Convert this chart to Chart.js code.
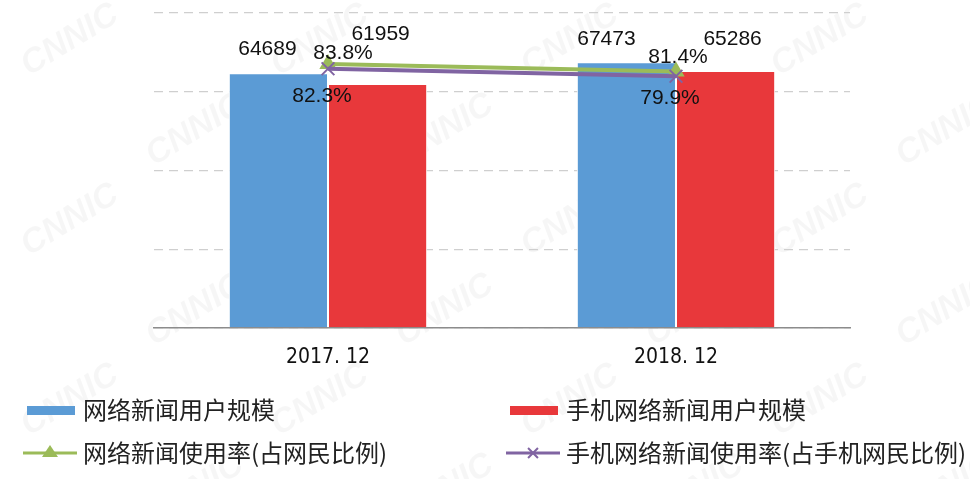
<!DOCTYPE html>
<html>
<head>
<meta charset="utf-8">
<script src="https://cdn.jsdelivr.net/npm/chart.js@4/dist/chart.umd.min.js"></script>
<style>
  html, body { margin: 0; padding: 0; background: #fff; }
  #wrap { width: 970px; height: 479px; position: relative; }
</style>
</head>
<body>
<div id="wrap"><canvas id="myChart" width="970" height="479"></canvas></div>
<script>
// data
var categories = ["2017. 12", "2018. 12"];
var newsUsers = [64689, 67473];          // 网络新闻用户规模 (万)
var mobileNewsUsers = [61959, 65286];    // 手机网络新闻用户规模 (万)
var newsRate = [83.8, 81.4];             // 网络新闻使用率
var mobileNewsRate = [82.3, 79.9];       // 手机网络新闻使用率

var seriesNames = ["网络新闻用户规模", "手机网络新闻用户规模",
                   "网络新闻使用率(占网民比例)", "手机网络新闻使用率(占手机网民比例)"];

// where each value label sits relative to its mark (dx, dy)
var labelOffsets = [
  [[-11, -24], [-20, -23]],
  [[3, -50], [7, -32]],
  [[15, -11], [2, -14]],
  [[-6, 27], [-6, 22]]
];

var watermark = {
  id: "watermark",
  beforeDraw: function(chart) {
    var ctx = chart.ctx;
    ctx.save();
    ctx.fillStyle = "rgba(0,0,0,0.035)";
    ctx.font = "bold italic 34px 'Liberation Sans'";
    ctx.textAlign = "center";
    ctx.textBaseline = "middle";
    for (var r = 0; r < 6; r++) {
      for (var c = 0; c < 5; c++) {
        var x = 70 + c * 250 + (r % 2) * 125;
        var y = 40 + r * 90;
        ctx.save();
        ctx.translate(x, y);
        ctx.rotate(-0.55);
        ctx.fillText("CNNIC", 0, 0);
        ctx.restore();
      }
    }
    ctx.restore();
  }
};

var valueLabels = {
  id: "valueLabels",
  afterDatasetsDraw: function(chart) {
    var ctx = chart.ctx;
    ctx.save();
    ctx.font = "21px 'Liberation Sans', Arial, sans-serif";
    ctx.fillStyle = "#111";
    ctx.textAlign = "center";
    ctx.textBaseline = "middle";
    chart.data.datasets.forEach(function(ds, i) {
      var meta = chart.getDatasetMeta(i);
      meta.data.forEach(function(el, j) {
        var v = ds.data[j];
        var txt = i < 2 ? String(v) : v.toFixed(1) + "%";
        ctx.fillText(txt, el.x + labelOffsets[i][j][0], el.y + labelOffsets[i][j][1]);
      });
    });
    ctx.restore();
  }
};

var bottomLegend = {
  id: "bottomLegend",
  afterDraw: function(chart) {
    var ctx = chart.ctx;
    var cols = [27, 510];
    var rows = [410, 453];
    ctx.save();
    ctx.font = "24px 'Noto Sans CJK SC', sans-serif";
    ctx.textBaseline = "middle";
    chart.data.datasets.forEach(function(ds, k) {
      var x = cols[k % 2];
      var y = rows[Math.floor(k / 2)];
      if (ds.type === "line") {
        ctx.strokeStyle = ds.borderColor;
        ctx.fillStyle = ds.borderColor;
        ctx.lineWidth = 3;
        ctx.beginPath();
        ctx.moveTo(x - 4, y);
        ctx.lineTo(x + 50, y);
        ctx.stroke();
        if (ds.pointStyle === "triangle") {
          ctx.beginPath();
          ctx.moveTo(x + 23, y - 8);
          ctx.lineTo(x + 31, y + 4);
          ctx.lineTo(x + 15, y + 4);
          ctx.closePath();
          ctx.fill();
        } else {
          ctx.lineWidth = 2;
          Chart.helpers.drawPoint(ctx, { pointStyle: ds.pointStyle, radius: 7, rotation: 0, borderWidth: 2 }, x + 23, y);
        }
      } else {
        ctx.fillStyle = ds.backgroundColor;
        ctx.fillRect(x, y - 4, 48, 9);
      }
      ctx.fillStyle = "#222";
      ctx.fillText(ds.label, x + 56, y);
    });
    ctx.restore();
  }
};

new Chart("myChart", {
  data: {
    labels: categories,
    datasets: [
      {
        type: "bar", label: seriesNames[0], data: newsUsers,
        backgroundColor: "#5B9BD5", borderColor: "#fff", borderWidth: 1,
        categoryPercentage: 0.57, barPercentage: 1, yAxisID: "y", order: 3
      },
      {
        type: "bar", label: seriesNames[1], data: mobileNewsUsers,
        backgroundColor: "#E8383B", borderColor: "#fff", borderWidth: 1,
        categoryPercentage: 0.57, barPercentage: 1, yAxisID: "y", order: 3
      },
      {
        type: "line", label: seriesNames[2], data: newsRate,
        borderColor: "#9BBB59", backgroundColor: "#9BBB59",
        pointBackgroundColor: "#9BBB59", pointBorderColor: "#9BBB59",
        pointStyle: "triangle", pointRadius: 6, borderWidth: 4,
        yAxisID: "y1", order: 2
      },
      {
        type: "line", label: seriesNames[3], data: mobileNewsRate,
        borderColor: "#8064A2", backgroundColor: "#8064A2",
        pointBackgroundColor: "#8064A2", pointBorderColor: "#8064A2",
        pointStyle: "crossRot", pointRadius: 9, pointBorderWidth: 2, borderWidth: 4,
        yAxisID: "y1", order: 1
      }
    ]
  },
  options: {
    responsive: false,
    animation: false,
    layout: { padding: { left: 154, right: 120, top: 13, bottom: 100 } },
    plugins: {
      legend: { display: false },
      tooltip: { enabled: false }
    },
    scales: {
      x: {
        grid: { display: false },
        border: { display: true, color: "#8c8c8c", width: 1.5 },
        ticks: {
          color: "#111", padding: 9,
          font: { family: "'Liberation Sans Narrow', 'DejaVu Sans Condensed', sans-serif", size: 21 }
        }
      },
      y: {
        min: 0, max: 80000,
        ticks: { display: false, stepSize: 20000 },
        grid: { color: "#cfcfcf", lineWidth: 1.2, drawTicks: false },
        border: { display: false, dash: [9, 6] },
        afterFit: function(s) { s.width = 0; }
      },
      y1: {
        display: false, min: 0, max: 100, position: "right"
      }
    }
  },
  plugins: [watermark, valueLabels, bottomLegend]
});
</script>
</body>
</html>
